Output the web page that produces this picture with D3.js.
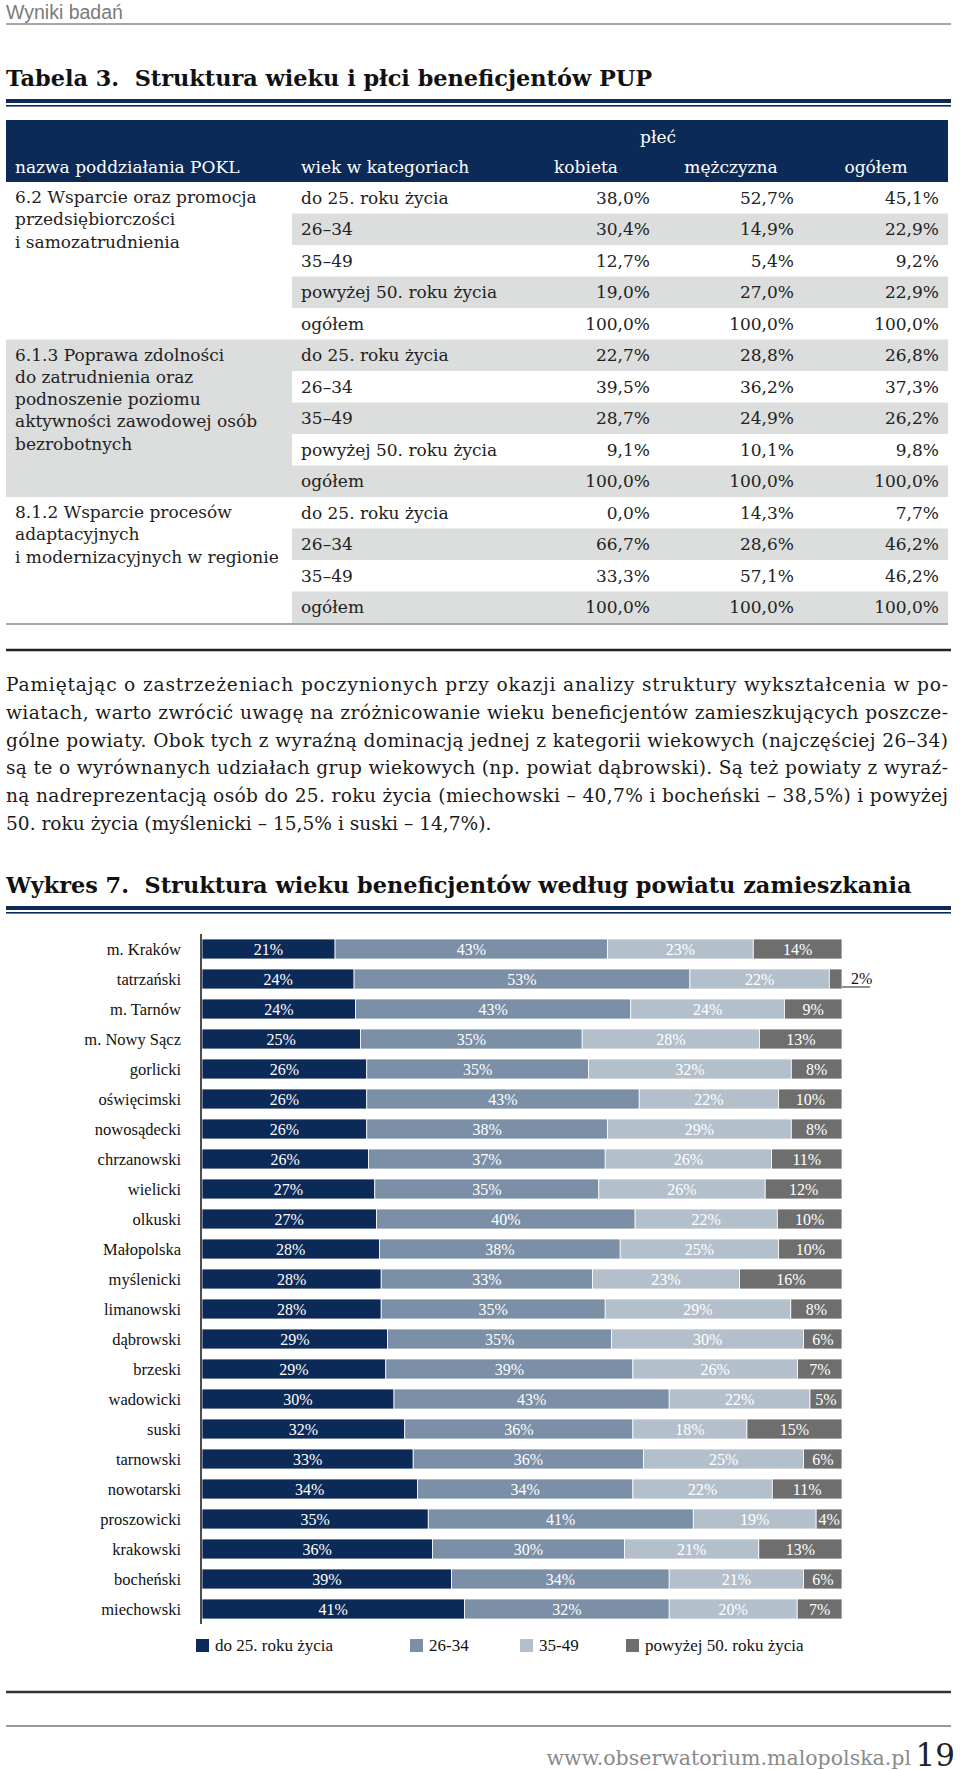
<!DOCTYPE html>
<html>
<head>
<meta charset="utf-8">
<script src="https://cdn.jsdelivr.net/npm/d3@7"></script>
<style>
  html, body { margin: 0; padding: 0; background: #fff; }
  svg text { white-space: pre; }
</style>
</head>
<body>
<div id="page"></div>
<script>
// --- Tabela 3 ---
const tableGroups = [
  ["6.2 Wsparcie oraz promocja", "przedsiębiorczości", "i samozatrudnienia"],
  ["6.1.3 Poprawa zdolności", "do zatrudnienia oraz", "podnoszenie poziomu", "aktywności zawodowej osób", "bezrobotnych"],
  ["8.1.2 Wsparcie procesów", "adaptacyjnych", "i modernizacyjnych w regionie"]
];
const tableAges = [
  ["do 25. roku życia", "26–34", "35–49", "powyżej 50. roku życia", "ogółem"],
  ["do 25. roku życia", "26–34", "35–49", "powyżej 50. roku życia", "ogółem"],
  ["do 25. roku życia", "26–34", "35–49", "ogółem"]
];
const tableKobieta = [[38.0, 30.4, 12.7, 19.0, 100.0], [22.7, 39.5, 28.7, 9.1, 100.0], [0.0, 66.7, 33.3, 100.0]];
const tableMezczyzna = [[52.7, 14.9, 5.4, 27.0, 100.0], [28.8, 36.2, 24.9, 10.1, 100.0], [14.3, 28.6, 57.1, 100.0]];
const tableOgolem = [[45.1, 22.9, 9.2, 22.9, 100.0], [26.8, 37.3, 26.2, 9.8, 100.0], [7.7, 46.2, 46.2, 100.0]];
const tableHeaders = ["kobieta", "mężczyzna", "ogółem"];

// --- tekst ---
const paragraphLines = [
  "Pamiętając o zastrzeżeniach poczynionych przy okazji analizy struktury wykształcenia w po-",
  "wiatach, warto zwrócić uwagę na zróżnicowanie wieku beneficjentów zamieszkujących poszcze-",
  "gólne powiaty. Obok tych z wyraźną dominacją jednej z kategorii wiekowych (najczęściej 26–34)",
  "są te o wyrównanych udziałach grup wiekowych (np. powiat dąbrowski). Są też powiaty z wyraź-",
  "ną nadreprezentacją osób do 25. roku życia (miechowski – 40,7% i bocheński – 38,5%) i powyżej",
  "50. roku życia (myślenicki – 15,5% i suski – 14,7%)."
];

// --- Wykres 7 ---
const powiaty = ["m. Kraków", "tatrzański", "m. Tarnów", "m. Nowy Sącz", "gorlicki", "oświęcimski",
  "nowosądecki", "chrzanowski", "wielicki", "olkuski", "Małopolska", "myślenicki", "limanowski",
  "dąbrowski", "brzeski", "wadowicki", "suski", "tarnowski", "nowotarski", "proszowicki",
  "krakowski", "bocheński", "miechowski"];
const do25 = [21, 24, 24, 25, 26, 26, 26, 26, 27, 27, 28, 28, 28, 29, 29, 30, 32, 33, 34, 35, 36, 39, 41];
const w2634 = [43, 53, 43, 35, 35, 43, 38, 37, 35, 40, 38, 33, 35, 35, 39, 43, 36, 36, 34, 41, 30, 34, 32];
const w3549 = [23, 22, 24, 28, 32, 22, 29, 26, 26, 22, 25, 23, 29, 30, 26, 22, 18, 25, 22, 19, 21, 21, 20];
const pow50 = [14, 2, 9, 13, 8, 10, 8, 11, 12, 10, 10, 16, 8, 6, 7, 5, 15, 6, 11, 4, 13, 6, 7];
const seriesKeys = ["do25", "w2634", "w3549", "pow50"];
const seriesNames = ["do 25. roku życia", "26-34", "35-49", "powyżej 50. roku życia"];

const W = 960, H = 1770;
const NAVY = "#0c2a58";
const SERIF = "'DejaVu Serif', serif";
const NARROW = "'Liberation Serif', serif";

const svg = d3.select("#page").append("svg")
  .attr("width", W).attr("height", H)
  .attr("viewBox", `0 0 ${W} ${H}`);
svg.append("rect").attr("width", W).attr("height", H).attr("fill", "#fff");

// nagłówek strony
svg.append("text").attr("x", 6).attr("y", 19)
  .attr("font-family", "'Liberation Sans Narrow', 'Liberation Sans', sans-serif")
  .attr("font-size", 19.5).attr("fill", "#7a7a7a").text("Wyniki badań");
svg.append("line").attr("x1", 6).attr("x2", 951).attr("y1", 24).attr("y2", 24)
  .attr("stroke", "#8a8a8a").attr("stroke-width", 1.5);

function sectionTitle(y, label) {
  svg.append("text").attr("x", 6).attr("y", y)
    .attr("font-family", SERIF).attr("font-weight", "bold")
    .attr("font-size", 22.4).attr("fill", "#111").text(label);
  svg.append("rect").attr("x", 6).attr("y", y + 13).attr("width", 945).attr("height", 4).attr("fill", NAVY);
  svg.append("rect").attr("x", 6).attr("y", y + 19).attr("width", 945).attr("height", 1.6).attr("fill", NAVY);
}

// ================= TABELA =================
sectionTitle(86, "Tabela 3.  Struktura wieku i płci beneficjentów PUP");

const tLeft = 6, tRight = 948, tAgeX = 292;
const headTop = 120, headBottom = 182, rowH = 31.5;
const colRight = [650, 794, 939];
const colCenter = [586, 731, 876];

svg.append("rect").attr("x", tLeft).attr("y", headTop)
  .attr("width", tRight - tLeft).attr("height", headBottom - headTop).attr("fill", NAVY);
const hdr = svg.append("g").attr("font-family", SERIF).attr("font-size", 17).attr("fill", "#fff");
hdr.append("text").attr("x", 658).attr("y", 143).attr("text-anchor", "middle").text("płeć");
hdr.append("text").attr("x", 15).attr("y", 173).text("nazwa poddziałania POKL");
hdr.append("text").attr("x", 301).attr("y", 173).text("wiek w kategoriach");
hdr.selectAll("text.col").data(tableHeaders).join("text").attr("class", "col")
  .attr("x", (d, i) => colCenter[i]).attr("y", 173).attr("text-anchor", "middle").text(d => d);

// wiersze
const rows = [];
tableAges.forEach((ages, g) => {
  ages.forEach((a, i) => rows.push({
    g, age: a,
    vals: [tableKobieta[g][i], tableMezczyzna[g][i], tableOgolem[g][i]]
  }));
});
const yRow = d3.scaleLinear().domain([0, rows.length]).range([headBottom, headBottom + rows.length * rowH]);
const fmt = v => d3.format(".1f")(v).replace(".", ",") + "%";

// szare tło grupy 2
let startIdx = 0;
const groupStart = tableAges.map(a => { const s = startIdx; startIdx += a.length; return s; });
svg.append("rect").attr("x", tLeft).attr("y", yRow(groupStart[1]))
  .attr("width", tAgeX - tLeft).attr("height", tableAges[1].length * rowH).attr("fill", "#dcdddd");

const rowG = svg.append("g").attr("font-family", SERIF).attr("font-size", 17).attr("fill", "#222");
rowG.selectAll("rect.stripe").data(rows.map((r, i) => i).filter(i => i % 2 === 1)).join("rect")
  .attr("class", "stripe").attr("x", tAgeX).attr("y", i => yRow(i))
  .attr("width", tRight - tAgeX).attr("height", rowH).attr("fill", "#dcdddd");
rows.forEach((r, i) => {
  const y = yRow(i) + rowH / 2 + 6;
  rowG.append("text").attr("x", 301).attr("y", y).text(r.age);
  r.vals.forEach((v, c) => rowG.append("text").attr("x", colRight[c]).attr("y", y)
    .attr("text-anchor", "end").text(fmt(v)));
});
tableGroups.forEach((lines, g) => {
  lines.forEach((l, k) => rowG.append("text").attr("x", 15)
    .attr("y", yRow(groupStart[g]) + 21 + k * 22.3).text(l));
});
svg.append("line").attr("x1", tLeft).attr("x2", tRight)
  .attr("y1", yRow(rows.length) + 1).attr("y2", yRow(rows.length) + 1)
  .attr("stroke", "#a8a8a8").attr("stroke-width", 2);

// ================= TEKST =================
svg.append("line").attr("x1", 6).attr("x2", 951).attr("y1", 650).attr("y2", 650)
  .attr("stroke", "#222").attr("stroke-width", 2.5);
const para = svg.append("g").attr("font-family", SERIF).attr("font-size", 18.6).attr("fill", "#1a1a1a");
paragraphLines.forEach((l, i) => {
  const t = para.append("text").attr("x", 6).attr("y", 691 + i * 27.8).text(l);
  if (i < paragraphLines.length - 1) t.attr("textLength", 942).attr("lengthAdjust", "spacing");
});

// ================= WYKRES =================
sectionTitle(893, "Wykres 7.  Struktura wieku beneficjentów według powiatu zamieszkania");

const data = powiaty.map((p, i) => ({ name: p, do25: do25[i], w2634: w2634[i], w3549: w3549[i], pow50: pow50[i] }));
const stacked = d3.stack().keys(seriesKeys).offset(d3.stackOffsetExpand)(data);

const cLeft = 202, cRight = 842, cTop = 934;
const x = d3.scaleLinear().domain([0, 1]).range([cLeft, cRight]);
const y = d3.scaleBand().domain(powiaty).range([cTop, cTop + powiaty.length * 30]).paddingInner(1 / 3).paddingOuter(1 / 6);
const color = d3.scaleOrdinal().domain(seriesKeys).range(["#0c2a58", "#7b8fa7", "#b4bfcc", "#6e6e6e"]);

const chart = svg.append("g");
const layers = chart.selectAll("g.layer").data(stacked).join("g").attr("class", "layer")
  .attr("fill", d => color(d.key));
layers.selectAll("rect").data(d => d).join("rect")
  .attr("x", d => x(d[0])).attr("y", d => y(d.data.name))
  .attr("width", d => x(d[1]) - x(d[0])).attr("height", y.bandwidth())
  .attr("stroke", "#fff").attr("stroke-width", 0.8);

// etykiety wartości
stacked.forEach(layer => {
  layer.forEach(d => {
    const w = x(d[1]) - x(d[0]);
    const v = d.data[layer.key];
    const cy = y(d.data.name) + y.bandwidth() / 2;
    if (w >= 20) {
      chart.append("text").attr("x", (x(d[0]) + x(d[1])) / 2).attr("y", cy + 5.5)
        .attr("text-anchor", "middle").attr("font-family", NARROW).attr("font-size", 16)
        .attr("fill", "#fff").text(v + "%");
    } else {
      const by = y(d.data.name) + y.bandwidth() - 2;
      chart.append("line").attr("x1", x(d[1])).attr("x2", x(d[1]) + 28).attr("y1", by).attr("y2", by)
        .attr("stroke", "#222").attr("stroke-width", 1);
      chart.append("text").attr("x", x(d[1]) + 9).attr("y", by - 3)
        .attr("font-family", NARROW).attr("font-size", 16).attr("fill", "#111").text(v + "%");
    }
  });
});

// oś Y
const yAxis = chart.append("g").attr("transform", `translate(${cLeft - 1},0)`)
  .call(d3.axisLeft(y).tickSize(0).tickPadding(20));
yAxis.select(".domain").attr("d", `M0,${cTop}V${cTop + powiaty.length * 30}`)
  .attr("stroke", "#111").attr("stroke-width", 1.5);
yAxis.selectAll("text").attr("font-family", NARROW).attr("font-size", 16.5).attr("fill", "#111")
  .attr("dy", "0.35em");

// legenda
const legX = [196, 410, 520, 626];
const leg = chart.selectAll("g.leg").data(seriesKeys).join("g").attr("class", "leg")
  .attr("transform", (d, i) => `translate(${legX[i]},1639)`);
leg.append("rect").attr("width", 13).attr("height", 13).attr("fill", d => color(d));
leg.append("text").attr("x", 19).attr("y", 12).attr("font-family", NARROW).attr("font-size", 17)
  .attr("fill", "#111").text((d, i) => seriesNames[i]);

// stopka
svg.append("line").attr("x1", 6).attr("x2", 951).attr("y1", 1692).attr("y2", 1692)
  .attr("stroke", "#333").attr("stroke-width", 2.5);
svg.append("line").attr("x1", 6).attr("x2", 951).attr("y1", 1726).attr("y2", 1726)
  .attr("stroke", "#777").attr("stroke-width", 1.5);
svg.append("text").attr("x", 911).attr("y", 1765).attr("text-anchor", "end")
  .attr("font-family", SERIF).attr("font-size", 20.5).attr("fill", "#8a8a8a")
  .text("www.obserwatorium.malopolska.pl");
svg.append("text").attr("x", 955).attr("y", 1766).attr("text-anchor", "end")
  .attr("font-family", SERIF).attr("font-size", 31).attr("fill", "#222").text("19");
</script>
</body>
</html>
